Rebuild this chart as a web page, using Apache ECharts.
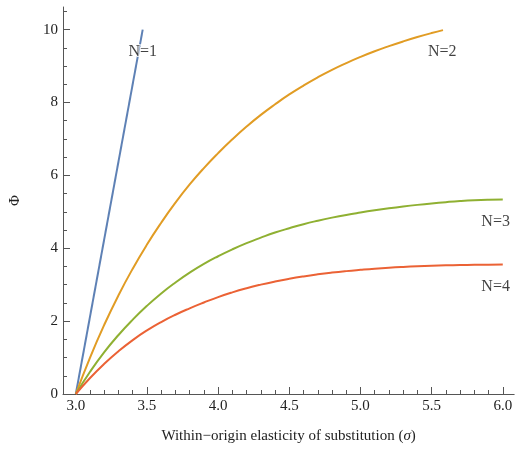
<!DOCTYPE html>
<html>
<head>
<meta charset="utf-8">
<script src="https://cdn.jsdelivr.net/npm/echarts@6/dist/echarts.min.js"></script>
<style>
html, body { margin: 0; padding: 0; background: #fff; }
#chart { width: 515px; height: 452px; }
</style>
</head>
<body>
<div id="chart"></div>
<script>
// values
const sigmaN1 = [3.0, 3.47]
const phiN1 = [0, 10.0]

const sigmaN2 = [3.0, 3.1, 3.2, 3.3, 3.4, 3.5, 3.6, 3.7, 3.8, 3.9, 4.0, 4.1, 4.2, 4.3, 4.4, 4.5, 4.6, 4.7, 4.8, 4.9,
  5.0, 5.1, 5.2, 5.3, 5.4, 5.5, 5.58]
const phiN2 = [0, 1.0, 1.9, 2.71, 3.44, 4.1, 4.7, 5.25, 5.75, 6.2, 6.61, 6.99, 7.34, 7.66, 7.95, 8.22, 8.465, 8.69, 8.895, 9.08,
  9.25, 9.405, 9.545, 9.675, 9.795, 9.905, 9.985]

const sigmaN34 = [3.0, 3.1, 3.2, 3.3, 3.4, 3.5, 3.6, 3.7, 3.8, 3.9, 4.0, 4.1, 4.2, 4.3, 4.4, 4.5, 4.6, 4.7, 4.8, 4.9,
  5.0, 5.1, 5.2, 5.3, 5.4, 5.5, 5.6, 5.7, 5.8, 5.9, 6.0]
const phiN3 = [0, 0.61, 1.15, 1.62, 2.04, 2.42, 2.76, 3.06, 3.33, 3.57, 3.78, 3.97, 4.14, 4.29, 4.43, 4.55, 4.66, 4.755, 4.84, 4.915,
  4.98, 5.04, 5.095, 5.145, 5.19, 5.23, 5.265, 5.295, 5.317, 5.33, 5.335]
const phiN4 = [0, 0.44, 0.83, 1.175, 1.48, 1.745, 1.975, 2.175, 2.35, 2.51, 2.66, 2.79, 2.903, 3.001, 3.087, 3.162, 3.227, 3.283, 3.331, 3.372,
  3.407, 3.439, 3.466, 3.488, 3.506, 3.52, 3.531, 3.539, 3.545, 3.549, 3.551]

const labelText = ['N=1', 'N=2', 'N=3', 'N=4']
const labelSigma = [3.47, 5.575, 5.95, 5.95]
const labelPhi = [9.39, 9.39, 4.72, 2.93]

const xMajor = [3.0, 3.5, 4.0, 4.5, 5.0, 5.5, 6.0]
const xMinor = [3.1, 3.2, 3.3, 3.4, 3.6, 3.7, 3.8, 3.9, 4.1, 4.2, 4.3, 4.4, 4.6, 4.7, 4.8, 4.9,
  5.1, 5.2, 5.3, 5.4, 5.6, 5.7, 5.8, 5.9]
const yMajor = [0, 2, 4, 6, 8, 10]
const yMinor = [0.5, 1, 1.5, 2.5, 3, 3.5, 4.5, 5, 5.5, 6.5, 7, 7.5, 8.5, 9, 9.5, 10.5]

const colors = ['#5e81b5', '#e19c24', '#8fb032', '#eb6235']
const font = 'Liberation Serif'
const axisColor = '#555'

const zip = (xs, ys) => xs.map((x, i) => [x, ys[i]])

const chart = echarts.init(document.getElementById('chart'))

const xRange = { type: 'value', min: 2.91, max: 6.08 }
const yRange = { type: 'value', min: 0, max: 10.62 }

const option = {
  animation: false,
  grid: { left: 57, right: 0, top: 7, bottom: 58 },
  xAxis: [{
    ...xRange,
    position: 'bottom',
    axisLine: { onZero: false, lineStyle: { color: axisColor, width: 1 } },
    axisTick: { inside: true, length: 7, customValues: xMajor, lineStyle: { color: axisColor } },
    axisLabel: {
      customValues: xMajor, margin: 5, color: '#222', fontFamily: font, fontSize: 15,
      formatter: v => v.toFixed(1)
    },
    splitLine: { show: false },
    name: 'Within\u2212origin elasticity of substitution ({i|\u03c3})',
    nameLocation: 'middle',
    nameGap: 35,
    nameTextStyle: {
      color: '#222', fontFamily: font, fontSize: 15,
      rich: { i: { fontStyle: 'italic', fontFamily: font, fontSize: 15, color: '#222' } }
    }
  }, {
    ...xRange,
    position: 'bottom',
    axisLine: { show: false, onZero: false },
    axisTick: { inside: true, length: 4, customValues: xMinor, lineStyle: { color: axisColor } },
    axisLabel: { show: false },
    splitLine: { show: false }
  }],
  yAxis: [{
    ...yRange,
    position: 'left',
    axisLine: { show: true, onZero: false, lineStyle: { color: axisColor, width: 1 } },
    axisTick: { show: true, inside: true, length: 7, customValues: yMajor, lineStyle: { color: axisColor } },
    axisLabel: { customValues: yMajor, margin: 5, color: '#222', fontFamily: font, fontSize: 15 },
    splitLine: { show: false },
    name: '\u03a6',
    nameLocation: 'middle',
    nameGap: 40,
    nameTextStyle: { color: '#222', fontFamily: font, fontSize: 15 }
  }, {
    ...yRange,
    position: 'left',
    axisLine: { show: false, onZero: false },
    axisTick: { show: true, inside: true, length: 4, customValues: yMinor, lineStyle: { color: axisColor } },
    axisLabel: { show: false },
    splitLine: { show: false }
  }],
  series: [
    { name: 'N=1', data: zip(sigmaN1, phiN1), smooth: false },
    { name: 'N=2', data: zip(sigmaN2, phiN2), smooth: true },
    { name: 'N=3', data: zip(sigmaN34, phiN3), smooth: true },
    { name: 'N=4', data: zip(sigmaN34, phiN4), smooth: true }
  ].map((s, i) => ({
    ...s,
    type: 'line',
    showSymbol: false,
    lineStyle: { color: colors[i], width: 2 },
    itemStyle: { color: colors[i] },
    z: 2
  })).concat([{
    type: 'scatter',
    symbolSize: 0,
    z: 5,
    data: labelText.map((t, i) => ({ name: t, value: [labelSigma[i], labelPhi[i]] })),
    label: {
      show: true,
      position: 'inside',
      formatter: p => p.name,
      color: '#111',
      fontFamily: font,
      fontSize: 16,
      textBorderColor: '#fff',
      textBorderWidth: 2
    }
  }])
}

chart.setOption(option)
</script>
</body>
</html>
